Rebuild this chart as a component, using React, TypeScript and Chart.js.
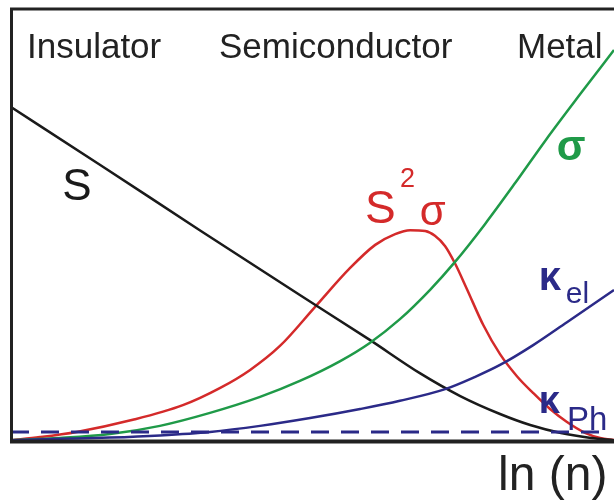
import React, { useEffect, useRef } from "react";
import { Chart, registerables } from "chart.js";

Chart.register(...registerables);

// x: ln(n) in arbitrary units 0..100, y: arbitrary units 0..100
const sX = [0, 14.8, 31.3, 47.9, 59.5, 67.8, 74.5, 81.1, 86.1, 91.2, 96.2, 100];
const sY = [77.3, 63.9, 48.8, 33.8, 23.4, 15.7, 10.4, 6.25, 3.7, 1.85, 0.7, 0.2];

const pfX = [0, 4.8, 10.9, 20.2, 28.5, 34.7, 39.6, 44.6, 50.4, 56.2, 60.4, 63.7, 66.2, 68.7, 70.3, 72.0, 73.6, 75.6, 78.3, 81.1, 83.9, 86.6, 89.4, 92.2, 95.2, 97.7, 100];
const pfY = [0.2, 0.9, 2.1, 4.9, 8.3, 12.3, 16.4, 22.0, 31.0, 40.0, 45.4, 47.9, 48.8, 48.6, 47.5, 45.1, 41.2, 35.2, 26.9, 20.1, 15.0, 11.1, 7.4, 4.4, 1.9, 0.7, 0.2];

const sigX = [0, 8.1, 16.4, 24.7, 33.0, 41.3, 47.9, 54.6, 59.5, 64.5, 69.5, 73.6, 78.6, 83.6, 88.7, 94.4, 100];
const sigY = [0.2, 0.7, 1.6, 3.5, 6.5, 10.2, 13.9, 18.5, 22.7, 28.2, 35.0, 41.4, 50.2, 59.7, 69.7, 80.3, 90.5];

const kelX = [0, 8.1, 16.4, 24.7, 33.0, 41.3, 49.6, 57.9, 64.5, 72.0, 76.9, 81.1, 86.6, 92.2, 100];
const kelY = [0.2, 0.5, 0.8, 1.3, 2.1, 3.5, 5.3, 7.4, 9.3, 12.0, 14.8, 17.6, 22.2, 27.5, 34.95];

const kphX = [0, 98.5];
const kphY = [2.1, 2.1];

const regionLabels = ["Insulator", "Semiconductor", "Metal"];
const axisLabel = "ln (n)";

const FONT = '"Liberation Sans", Arial, sans-serif';

function pts(xs: number[], ys: number[]) {
  return xs.map((x, i) => ({ x, y: ys[i] }));
}

const overlay = {
  id: "overlay",
  afterDatasetsDraw(chart: any) {
    const ctx = chart.ctx as CanvasRenderingContext2D;
    const { left, top, right, bottom } = chart.chartArea;
    const xs = chart.scales.x;
    const ys = chart.scales.y;
    const px = (v: number) => xs.getPixelForValue(v);
    const py = (v: number) => ys.getPixelForValue(v);
    ctx.save();
    // frame
    ctx.strokeStyle = "#222";
    ctx.lineWidth = 3;
    ctx.beginPath();
    ctx.moveTo(left + 0.5, top - 1);
    ctx.lineTo(left + 0.5, bottom + 1);
    ctx.moveTo(left - 1, top);
    ctx.lineTo(right, top);
    ctx.stroke();
    ctx.lineWidth = 4;
    ctx.beginPath();
    ctx.moveTo(left - 1, bottom + 0.5);
    ctx.lineTo(right, bottom + 0.5);
    ctx.stroke();

    ctx.textBaseline = "alphabetic";
    ctx.textAlign = "left";
    // region labels
    ctx.fillStyle = "#222";
    ctx.font = `35px ${FONT}`;
    ctx.fillText(regionLabels[0], 27, top + 49);
    ctx.fillText(regionLabels[1], 219, top + 49);
    ctx.fillText(regionLabels[2], 517, top + 49);

    // axis label
    ctx.font = `48px ${FONT}`;
    ctx.fillText(axisLabel, 498, bottom + 49);

    // S label
    ctx.fillStyle = "#1a1a1a";
    ctx.font = `44px ${FONT}`;
    ctx.fillText("S", px(8.5), py(55.8));

    // S^2 sigma
    ctx.fillStyle = "#d42a2a";
    ctx.font = `46px ${FONT}`;
    ctx.fillText("S", px(58.7), py(50.5));
    ctx.font = `27px ${FONT}`;
    ctx.fillText("2", px(64.5), py(58.8));
    ctx.font = `42px ${FONT}`;
    ctx.fillText("σ", px(67.8), py(50.0));

    // sigma
    ctx.fillStyle = "#1f9a48";
    ctx.font = `bold 42px ${FONT}`;
    ctx.fillText("σ", px(90.5), py(65.0));

    // kappa el
    ctx.fillStyle = "#2b2a88";
    ctx.font = `bold 40px ${FONT}`;
    ctx.fillText("κ", px(87.5), py(35.0));
    ctx.font = `30px ${FONT}`;
    ctx.fillText("el", px(92.0), py(32.0));

    // kappa ph
    ctx.font = `bold 38px ${FONT}`;
    ctx.fillText("κ", px(87.5), py(6.5));
    ctx.font = `33px ${FONT}`;
    ctx.fillText("Ph", px(92.2), py(2.6));
    ctx.restore();
  },
};

export default function App() {
  const ref = useRef<HTMLCanvasElement | null>(null);
  useEffect(() => {
    if (!ref.current) return;
    const common = {
      pointRadius: 0,
      borderWidth: 2.5,
      fill: false,
      cubicInterpolationMode: "monotone" as const,
    };
    const chart = new Chart(ref.current, {
      type: "line",
      data: {
        datasets: [
          { ...common, label: "κPh", data: pts(kphX, kphY), borderColor: "#2b2a88", borderWidth: 3, borderDash: [18, 12] },
          { ...common, label: "κel", data: pts(kelX, kelY), borderColor: "#2b2a88" },
          { ...common, label: "σ", data: pts(sigX, sigY), borderColor: "#1f9a48" },
          { ...common, label: "S", data: pts(sX, sY), borderColor: "#1a1a1a" },
          { ...common, label: "S²σ", data: pts(pfX, pfY), borderColor: "#d42a2a" },
        ],
      },
      options: {
        responsive: false,
        animation: false,
        layout: { padding: { left: 11, top: 9, right: 0, bottom: 63 } },
        plugins: { legend: { display: false }, tooltip: { enabled: false } },
        scales: {
          x: { type: "linear", min: 0, max: 100, display: false },
          y: { type: "linear", min: 0, max: 100, display: false },
        },
      },
      plugins: [overlay],
    });
    return () => chart.destroy();
  }, []);
  return (
    <canvas
      ref={ref}
      width={614}
      height={504}
      style={{ position: "fixed", left: 0, top: 0, width: 614, height: 504, background: "#fff" }}
    />
  );
}
